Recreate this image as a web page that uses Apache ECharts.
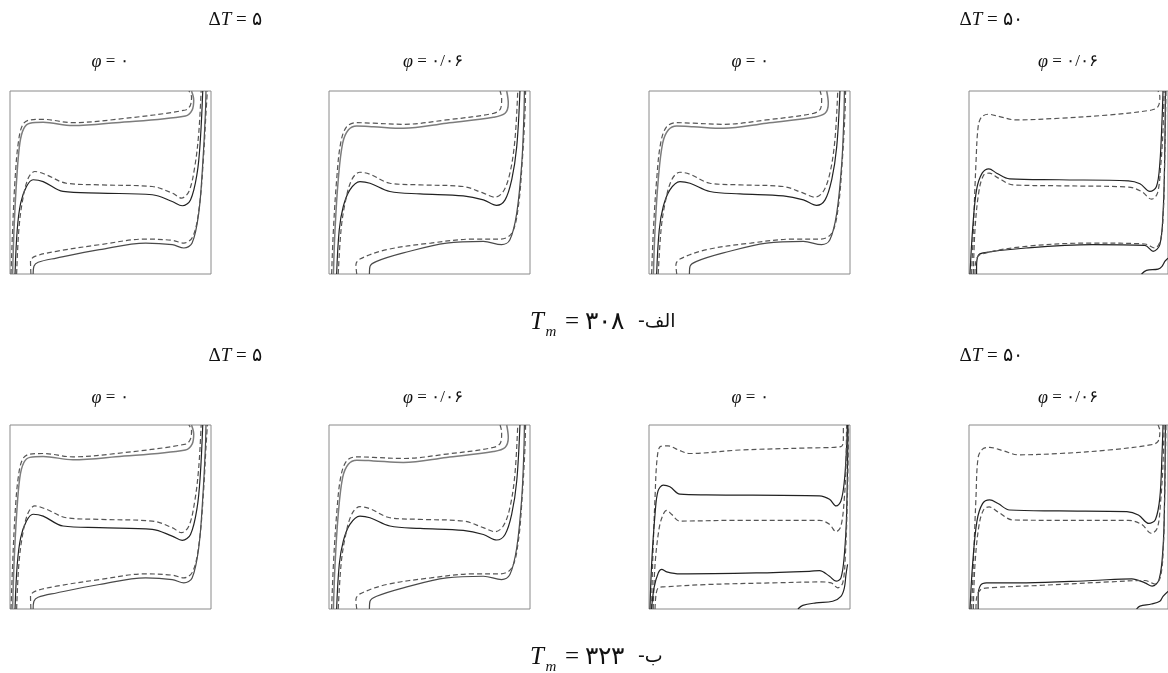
<!DOCTYPE html>
<html>
<head>
<meta charset="utf-8">
<script src="https://cdn.jsdelivr.net/npm/echarts@6/dist/echarts.min.js"></script>
<style>
  html, body { margin: 0; padding: 0; background: #fff; }
  #main { width: 1168px; height: 673px; }
</style>
</head>
<body>
<div id="main"></div>
<script>
// contour lines, x/y normalised to the box (0..1, y up)

// panel type A: dT=5, phi=0
const aTopSolid = [[0.013,0],[0.020,0.242],[0.033,0.515],[0.049,0.715],[0.069,0.796],[0.099,0.824],[0.165,0.829],[0.313,0.811],[0.527,0.827],[0.873,0.864],[0.906,0.896],[0.914,0.951],[0.903,1]]
const aTopDash = [[0.005,0],[0.013,0.242],[0.025,0.515],[0.041,0.715],[0.063,0.815],[0.099,0.842],[0.165,0.845],[0.313,0.827],[0.527,0.845],[0.873,0.896],[0.898,0.924],[0.903,0.969],[0.890,1]]
const aMidSolid = [[0.025,0],[0.036,0.242],[0.053,0.387],[0.082,0.478],[0.115,0.515],[0.165,0.505],[0.264,0.451],[0.445,0.442],[0.708,0.433],[0.807,0.396],[0.857,0.373],[0.898,0.405],[0.931,0.551],[0.947,0.733],[0.959,1]]
const aMidDash = [[0.033,0],[0.044,0.242],[0.063,0.405],[0.091,0.524],[0.124,0.560],[0.181,0.542],[0.280,0.496],[0.445,0.487],[0.708,0.478],[0.807,0.442],[0.853,0.415],[0.890,0.451],[0.919,0.585],[0.939,0.769],[0.951,1]]
const aBotSolid = [[0.115,0],[0.119,0.042],[0.140,0.064],[0.231,0.087],[0.445,0.133],[0.675,0.169],[0.807,0.160],[0.865,0.142],[0.906,0.169],[0.939,0.333],[0.959,0.605],[0.972,0.878],[0.975,1]]
const aBotDash = [[0.104,0],[0.102,0.069],[0.124,0.096],[0.231,0.124],[0.445,0.160],[0.675,0.191],[0.807,0.184],[0.865,0.169],[0.910,0.205],[0.942,0.369],[0.962,0.624],[0.975,0.878],[0.982,1]]

// panel type B: phi=0.06 (and dT=50, phi=0 at Tm=308)
const bTopSolid = [[0.022,0],[0.030,0.242],[0.046,0.515],[0.068,0.715],[0.096,0.787],[0.138,0.809],[0.221,0.805],[0.370,0.796],[0.585,0.824],[0.818,0.856],[0.876,0.878],[0.892,0.933],[0.884,1]]
const bTopDash = [[0.013,0],[0.022,0.242],[0.038,0.515],[0.058,0.715],[0.088,0.805],[0.138,0.827],[0.221,0.824],[0.370,0.818],[0.585,0.842],[0.818,0.878],[0.854,0.905],[0.859,0.960],[0.851,1]]
const bMidSolid = [[0.038,0],[0.051,0.242],[0.071,0.369],[0.104,0.460],[0.154,0.505],[0.204,0.496],[0.303,0.451],[0.453,0.438],[0.668,0.427],[0.768,0.405],[0.834,0.375],[0.876,0.405],[0.909,0.515],[0.934,0.696],[0.950,1]]
const bMidDash = [[0.046,0],[0.060,0.242],[0.080,0.387],[0.113,0.515],[0.154,0.556],[0.204,0.545],[0.303,0.496],[0.453,0.487],[0.668,0.478],[0.768,0.442],[0.826,0.420],[0.867,0.451],[0.900,0.551],[0.925,0.733],[0.939,1]]
const bBotSolid = [[0.201,0],[0.204,0.042],[0.237,0.069],[0.370,0.115],[0.585,0.169],[0.768,0.178],[0.859,0.160],[0.900,0.187],[0.934,0.333],[0.959,0.605],[0.970,0.878],[0.972,1]]
const bBotDash = [[0.138,0],[0.134,0.051],[0.154,0.082],[0.287,0.133],[0.506,0.169],[0.721,0.191],[0.854,0.191],[0.910,0.224],[0.942,0.369],[0.962,0.624],[0.975,0.878],[0.978,1]]

// panel type C: dT=50, phi=0.06, Tm=308
const cTopDash = [[0.013,0],[0.022,0.242],[0.035,0.605],[0.046,0.805],[0.062,0.856],[0.095,0.873],[0.154,0.860],[0.237,0.842],[0.453,0.851],[0.701,0.869],[0.917,0.896],[0.950,0.915],[0.959,0.969],[0.950,1]]
const cMidSolid = [[0.005,0],[0.018,0.242],[0.038,0.460],[0.066,0.551],[0.100,0.575],[0.139,0.551],[0.204,0.520],[0.453,0.515],[0.801,0.509],[0.859,0.493],[0.909,0.451],[0.942,0.478],[0.959,0.605],[0.970,0.842],[0.975,1]]
const cMidDash = [[0.022,0],[0.030,0.242],[0.051,0.460],[0.075,0.542],[0.101,0.551],[0.148,0.524],[0.221,0.487],[0.453,0.482],[0.801,0.475],[0.867,0.451],[0.917,0.409],[0.947,0.442],[0.963,0.587],[0.975,0.787],[0.980,1]]
const cBotSolid = [[0.038,0],[0.038,0.042],[0.046,0.100],[0.071,0.115],[0.287,0.142],[0.619,0.160],[0.884,0.156],[0.925,0.124],[0.959,0.160],[0.975,0.333],[0.983,0.605],[0.987,1]]
const cBotDash = [[0.030,0],[0.033,0.060],[0.055,0.105],[0.287,0.151],[0.619,0.169],[0.884,0.164],[0.934,0.142],[0.963,0.187],[0.978,0.369],[0.983,0.605],[0.990,1]]
const cCorner = [[0.867,0],[0.892,0.020],[0.950,0.027],[0.970,0.042],[0.985,0.070],[1,0.087]]

// panel type D: dT=50, phi=0, Tm=323
const dTopDash = [[0.013,0],[0.018,0.242],[0.030,0.605],[0.041,0.824],[0.058,0.884],[0.095,0.887],[0.145,0.865],[0.203,0.845],[0.451,0.864],[0.782,0.875],[0.955,0.882],[0.967,0.933],[0.967,1]]
const dUpSolid = [[0.005,0],[0.013,0.242],[0.030,0.515],[0.045,0.642],[0.071,0.673],[0.104,0.664],[0.154,0.624],[0.286,0.620],[0.848,0.615],[0.898,0.596],[0.931,0.560],[0.955,0.587],[0.972,0.696],[0.983,0.878],[0.987,1]]
const dUpDash = [[0.021,0],[0.030,0.242],[0.051,0.442],[0.071,0.515],[0.088,0.536],[0.112,0.515],[0.154,0.478],[0.451,0.482],[0.848,0.482],[0.898,0.460],[0.931,0.420],[0.955,0.451],[0.972,0.605],[0.980,0.787],[0.983,1]]
const dLowSolid = [[0.013,0],[0.025,0.115],[0.046,0.196],[0.063,0.215],[0.088,0.202],[0.154,0.191],[0.534,0.196],[0.798,0.205],[0.848,0.209],[0.898,0.178],[0.931,0.151],[0.955,0.169],[0.972,0.296],[0.983,0.515],[0.990,1]]
const dLowDash = [[0.030,0],[0.035,0.078],[0.046,0.115],[0.071,0.120],[0.286,0.133],[0.617,0.142],[0.856,0.147],[0.906,0.142],[0.939,0.115],[0.964,0.142],[0.977,0.296],[0.987,0.605],[0.993,1]]
const dCorner = [[0.741,0],[0.765,0.020],[0.831,0.033],[0.914,0.042],[0.955,0.069],[0.972,0.115],[0.980,0.187],[0.988,0.242]]

// panel type E: dT=50, phi=0.06, Tm=323
const eTopDash = [[0.013,0],[0.022,0.242],[0.035,0.605],[0.046,0.824],[0.068,0.869],[0.104,0.878],[0.171,0.860],[0.249,0.838],[0.453,0.845],[0.701,0.864],[0.917,0.893],[0.950,0.911],[0.959,0.969],[0.950,1]]
const eMidSolid = [[0.005,0],[0.018,0.242],[0.040,0.478],[0.068,0.573],[0.104,0.593],[0.146,0.573],[0.204,0.538],[0.453,0.533],[0.793,0.529],[0.851,0.511],[0.904,0.465],[0.937,0.487],[0.959,0.605],[0.970,0.842],[0.975,1]]
const eMidDash = [[0.022,0],[0.030,0.242],[0.051,0.460],[0.075,0.542],[0.101,0.555],[0.146,0.527],[0.221,0.484],[0.453,0.482],[0.801,0.482],[0.867,0.460],[0.917,0.411],[0.947,0.442],[0.963,0.587],[0.975,0.787],[0.980,1]]
const eBotSolid = [[0.046,0],[0.046,0.069],[0.058,0.129],[0.088,0.142],[0.287,0.142],[0.619,0.155],[0.818,0.164],[0.884,0.142],[0.920,0.124],[0.955,0.160],[0.975,0.333],[0.983,0.605],[0.987,1]]
const eBotDash = [[0.035,0],[0.038,0.060],[0.058,0.105],[0.104,0.115],[0.370,0.129],[0.701,0.147],[0.884,0.155],[0.934,0.136],[0.963,0.178],[0.978,0.369],[0.983,0.605],[0.990,1]]
const eCorner = [[0.842,0],[0.859,0.016],[0.917,0.027],[0.959,0.042],[0.975,0.069],[1,0.096]]

const headings = ['\u0394T = \u06F5', '\u0394T = \u06F5\u06F0']
const phiLabels = ['\u06F0', '\u06F0/\u06F0\u06F6', '\u06F0', '\u06F0/\u06F0\u06F6']
const tmLabels = ['\u06F3\u06F0\u06F8', '\u06F3\u06F2\u06F3']
const partLabels = ['-\u0627\u0644\u0641', '-\u0628']

const GRAY = '#7c7c7c', DARK = '#222', MID = '#4a4a4a', DASHC = '#555'

function setAB(t, td, m, md, b, bd) {
  return [
    [t, 'solid', GRAY], [td, 'dashed', DASHC],
    [m, 'solid', DARK], [md, 'dashed', DASHC],
    [b, 'solid', MID], [bd, 'dashed', DASHC]
  ]
}
function setCE(t, m, md, b, bd, c) {
  return [
    [t, 'dashed', DASHC],
    [m, 'solid', DARK], [md, 'dashed', DASHC],
    [b, 'solid', DARK], [bd, 'dashed', DASHC],
    [c, 'solid', DARK]
  ]
}

const setA = setAB(aTopSolid, aTopDash, aMidSolid, aMidDash, aBotSolid, aBotDash)
const setB = setAB(bTopSolid, bTopDash, bMidSolid, bMidDash, bBotSolid, bBotDash)
const setC = setCE(cTopDash, cMidSolid, cMidDash, cBotSolid, cBotDash, cCorner)
const setD = setCE(dTopDash, dUpSolid, dUpDash, dLowSolid, dLowDash, dCorner)
const setE = setCE(eTopDash, eMidSolid, eMidDash, eBotSolid, eBotDash, eCorner)

const colLeft = [10, 329, 649, 969]
const rowTop = [91, 425]
const panelSets = [setA, setB, setB, setC, setA, setB, setD, setE]

const grid = [], xAxis = [], yAxis = [], series = []
panelSets.forEach(function (set, i) {
  const row = Math.floor(i / 4), col = i % 4
  grid.push({
    left: colLeft[col], top: rowTop[row], width: 201, height: row ? 184 : 183,
    show: true, borderColor: '#8a8a8a', borderWidth: 1, backgroundColor: '#fff'
  })
  xAxis.push({ type: 'value', gridIndex: i, min: 0, max: 1, show: false })
  yAxis.push({ type: 'value', gridIndex: i, min: 0, max: 1, show: false })
  set.forEach(function (c) {
    series.push({
      type: 'line', xAxisIndex: i, yAxisIndex: i, data: c[0],
      showSymbol: false, smooth: 0.35, silent: true, animation: false,
      lineStyle: {
        color: c[2], width: c[2] === GRAY ? 1.5 : 1.2,
        type: c[1] === 'dashed' ? [5, 3] : 'solid'
      }
    })
  })
})

const FONT = '"Liberation Serif", "DejaVu Serif", serif'
const graphic = []
function txt(x, y, text, size, rich) {
  graphic.push({
    type: 'text', x: x, y: y, silent: true,
    style: {
      text: text, fill: '#111', font: size + 'px ' + FONT,
      align: 'center', verticalAlign: 'middle', rich: rich || {}
    }
  })
}
const headRich = { i: { fontStyle: 'italic', fontSize: 19, fontFamily: FONT } }
const phiRich = { i: { fontStyle: 'italic', fontSize: 18, fontFamily: FONT } }
;[0, 1].forEach(function (row) {
  const dy = row ? 336 : 0
  txt(235, 20 + dy, headings[0].replace('T', '{i|T}'), 19, headRich)
  txt(991, 20 + dy, headings[1].replace('T', '{i|T}'), 19, headRich)
  const phiX = [110, 433, 750, 1068]
  phiLabels.forEach(function (p, k) {
    txt(phiX[k], 62 + dy, '{i|\u03C6} = ' + p, 17, phiRich)
  })
  // caption T_m = ...
  const cy = row ? 657 : 322
  graphic.push({ type: 'text', x: 537, y: cy, silent: true,
    style: { text: 'T', fill: '#111', font: 'italic 25px ' + FONT, align: 'center', verticalAlign: 'middle' } })
  graphic.push({ type: 'text', x: 551, y: cy + 10, silent: true,
    style: { text: 'm', fill: '#111', font: 'italic 15px ' + FONT, align: 'center', verticalAlign: 'middle' } })
  graphic.push({ type: 'text', x: 565, y: cy, silent: true,
    style: { text: '= ' + tmLabels[row], fill: '#111', font: '25px ' + FONT, align: 'left', verticalAlign: 'middle' } })
  graphic.push({ type: 'text', x: 638, y: cy, silent: true,
    style: { text: partLabels[row], fill: '#111', font: '19px "DejaVu Sans", sans-serif', align: 'left', verticalAlign: 'middle' } })
})

const chart = echarts.init(document.getElementById('main'), null, { renderer: 'canvas' })
chart.setOption({
  backgroundColor: '#fff',
  animation: false,
  grid: grid,
  xAxis: xAxis,
  yAxis: yAxis,
  series: series,
  graphic: graphic
})
</script>
</body>
</html>
